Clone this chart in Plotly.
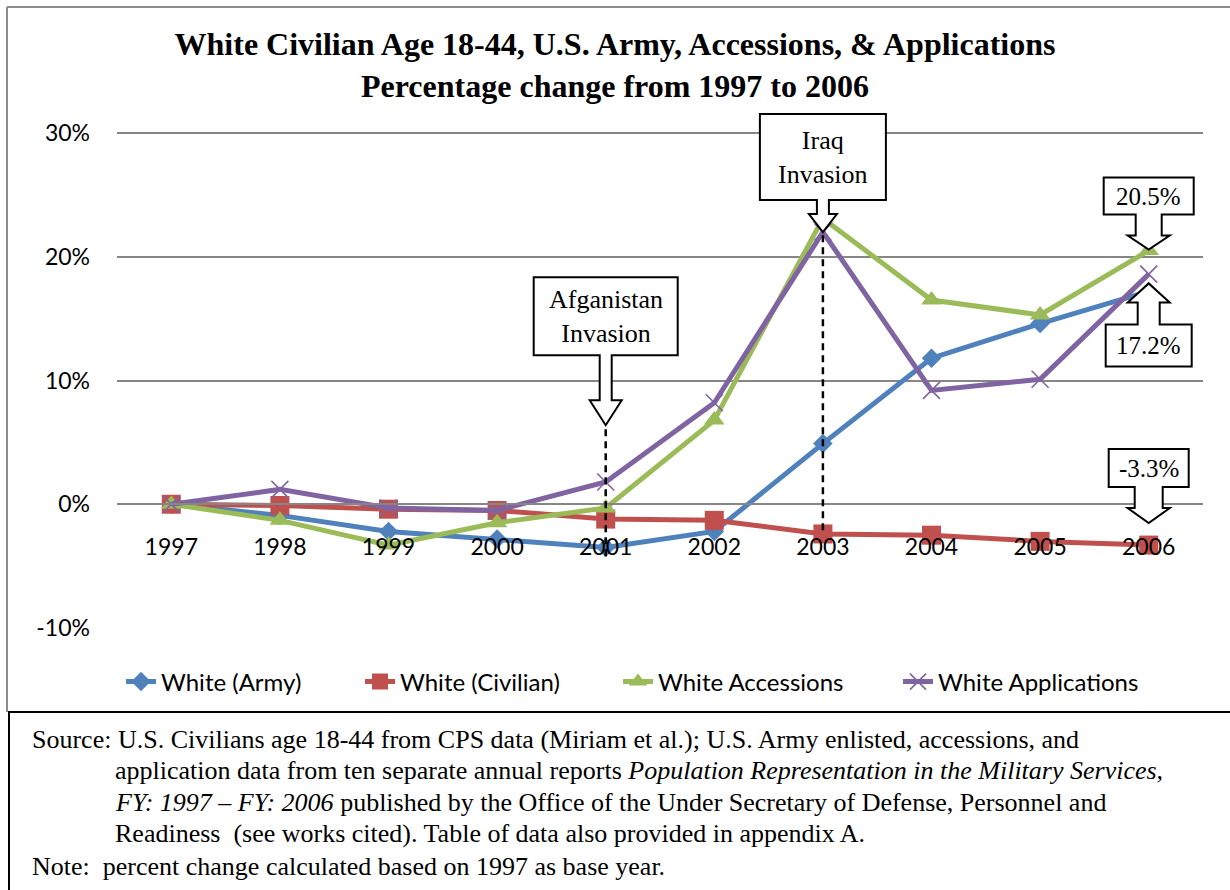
import plotly.graph_objects as go

# ---------------- data (percent change vs. 1997) ----------------
years = ["1997", "1998", "1999", "2000", "2001", "2002", "2003", "2004", "2005", "2006"]
white_army = [0.0, -0.9, -2.2, -2.8, -3.5, -2.2, 4.9, 11.8, 14.6, 17.2]
white_civilian = [0.0, -0.1, -0.4, -0.5, -1.2, -1.3, -2.4, -2.5, -3.0, -3.3]
white_accessions = [0.0, -1.3, -3.3, -1.5, -0.3, 6.8, 23.1, 16.5, 15.3, 20.5]
white_applications = [0.0, 1.2, -0.3, -0.5, 1.8, 8.2, 22.0, 9.2, 10.1, 18.6]
series_names = ["White (Army)", "White (Civilian)", "White Accessions", "White Applications"]
y_ticks = [-10, 0, 10, 20, 30]
y_tick_labels = ["-10%", "0%", "10%", "20%", "30%"]

# ---------------- layout geometry ----------------
W, H = 1230, 890
L, R, T, B = 117, 27, 105, 262
PW, PH = W - L - R, H - T - B
YMIN = -10
YMAX = 30 + 28 / 12.375   # headroom above the 30% gridline so the callout box is not clipped


def px(x):
    return (x - L) / PW


def py(y):
    return (H - B - y) / PH


SERIF = "Liberation Serif, Times New Roman, serif"
SANS = "Lato, Carlito, Calibri, sans-serif"

colors = ["#4F81BD", "#C0504D", "#9BBB59", "#8064A2"]
symbols = ["diamond", "square", "triangle-up", "x-thin-open"]
sizes = [15, 19, 18, 17]
legend_ids = ["legend", "legend2", "legend3", "legend4"]
legend_text_x = [166, 405, 663, 943]

fig = go.Figure()
for name, vals, c, s, sz, lg in zip(series_names,
                                    [white_army, white_civilian, white_accessions, white_applications],
                                    colors, symbols, sizes, legend_ids):
    marker = dict(symbol=s, size=sz, color=c)
    if s == "x-thin-open":
        marker["line"] = dict(color=c, width=1.6)
    fig.add_trace(go.Scatter(x=list(range(len(years))), y=vals, name=name, mode="lines+markers",
                             line=dict(color=c, width=5), marker=marker, legend=lg))

# ---------------- event dashed lines ----------------
event_idx = [years.index("2001"), years.index("2003")]
event_low = [-4.2, -2.1]
event_high = [6.4, 22.0]
for ex, lo, hi in zip(event_idx, event_low, event_high):
    fig.add_shape(type="line", xref="x", yref="y", x0=ex, x1=ex, y0=lo, y1=hi,
                  line=dict(color="black", width=2.5, dash="7px,5px"), layer="above")

# ---------------- callouts (block arrows) ----------------
callouts = [
    dict(text="Afganistan<br>Invasion", x=years.index("2001"), y=0.0, off=79, s=1, bw=72, bh=78, sl=45, hh=25, sw=6, hw=16, fs=26),
    dict(text="Iraq<br>Invasion", x=years.index("2003"), y=22.0, off=0, s=1, bw=63, bh=86, sl=14, hh=18, sw=6, hw=14, fs=26),
    dict(text="20.5%", x=years.index("2006"), y=20.5, off=1, s=1, bw=45, bh=37, sl=21, hh=14, sw=13, hw=21, fs=25),
    dict(text="17.2%", x=years.index("2006"), y=17.2, off=8, s=-1, bw=43, bh=42, sl=22, hh=19, sw=11, hw=21, fs=25),
    dict(text="-3.3%", x=years.index("2006"), y=-3.3, off=22, s=1, bw=40, bh=38, sl=21, hh=15, sw=14, hw=21, fs=25),
]
for c in callouts:
    o, s = c["off"], c["s"]
    hh, sl, bh, bw, sw, hw = c["hh"], c["sl"], c["bh"], c["bw"], c["sw"], c["hw"]
    pts = [(-bw, o + s * (hh + sl + bh)), (bw, o + s * (hh + sl + bh)), (bw, o + s * (hh + sl)),
           (sw, o + s * (hh + sl)), (sw, o + s * hh), (hw, o + s * hh), (0, o),
           (-hw, o + s * hh), (-sw, o + s * hh), (-sw, o + s * (hh + sl)), (-bw, o + s * (hh + sl))]
    path = "M " + " L ".join(f"{a:.1f},{b:.1f}" for a, b in pts) + " Z"
    fig.add_shape(type="path", xref="x", yref="y", xsizemode="pixel", ysizemode="pixel",
                  xanchor=c["x"], yanchor=c["y"], path=path,
                  fillcolor="white", line=dict(color="black", width=2), layer="above")
    fig.add_annotation(x=c["x"], y=c["y"], xref="x", yref="y", text=c["text"], showarrow=False,
                       yshift=o + s * (hh + sl + bh / 2), font=dict(family=SERIF, size=c["fs"], color="black"))

# ---------------- frame lines ----------------
frame = [
    (7, 7, W, 7, "#8c8c8c", 2),
    (7, 7, 7, 712, "#8c8c8c", 2),
    (8, 712, W, 712, "black", 2),
    (9, 712, 9, H, "black", 2),
]
for x0, y0, x1, y1, col, wd in frame:
    fig.add_shape(type="line", xref="paper", yref="paper", x0=px(x0), x1=px(x1), y0=py(y0), y1=py(y1),
                  line=dict(color=col, width=wd))

# ---------------- source note ----------------
source_lines = [
    ("Source: U.S. Civilians age 18-44 from CPS data (Miriam et al.); U.S. Army enlisted, accessions, and", 30, 739),
    ("application data from ten separate annual reports <i>Population Representation in the Military Services,</i>", 113, 770),
    ("<i>FY: 1997 – FY: 2006</i> published by the Office of the Under Secretary of Defense, Personnel and", 113, 802),
    ("Readiness  (see works cited). Table of data also provided in appendix A.", 113, 833),
    ("Note:  percent change calculated based on 1997 as base year.", 30, 866),
]
for txt, x0, y0 in source_lines:
    fig.add_annotation(xref="paper", yref="paper", x=px(x0), y=py(y0), xanchor="left", yanchor="middle",
                       text=txt, showarrow=False, font=dict(family=SERIF, size=26, color="black"))

legend_common = dict(orientation="h", xanchor="left", y=py(682), yanchor="middle",
                     font=dict(family=SANS, size=24, color="black"), bgcolor="rgba(0,0,0,0)")
legend_layout = {lg: dict(legend_common, x=px(tx - 45)) for lg, tx in zip(legend_ids, legend_text_x)}

fig.update_layout(
    width=W, height=H,
    margin=dict(l=L, r=R, t=T, b=B),
    paper_bgcolor="white", plot_bgcolor="white",
    title=dict(text="<b>White Civilian Age 18-44, U.S. Army, Accessions, & Applications<br>Percentage change from 1997 to 2006</b>",
               x=0.5, xref="container", xanchor="center", y=1 - 55 / H, yref="container", yanchor="middle",
               font=dict(family=SERIF, size=32, color="black")),
    showlegend=True,
    **legend_layout,
    xaxis=dict(range=[-0.5, len(years) - 0.5], tickvals=list(range(len(years))), ticktext=years,
               anchor="free", position=(0 - YMIN) / (YMAX - YMIN),
               showgrid=False, zeroline=False, showline=True, linecolor="#868686", linewidth=1.5,
               ticks="", ticklabelstandoff=22, tickfont=dict(family=SANS, size=23, color="black")),
    yaxis=dict(range=[YMIN, YMAX], tickvals=y_ticks, ticktext=y_tick_labels, showgrid=True,
               gridcolor="#868686", gridwidth=1.5, zeroline=False, showline=False, ticks="",
               ticklabelstandoff=26, tickfont=dict(family=SANS, size=23, color="black")),
)

fig.write_html("out.html", post_script="document.body.style.margin='0';",
               config={"displayModeBar": False})
